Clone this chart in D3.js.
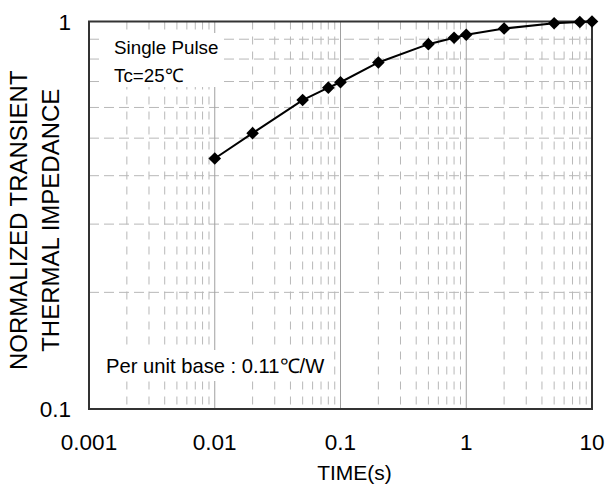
<!DOCTYPE html>
<html><head><meta charset="utf-8">
<script src="https://cdn.jsdelivr.net/npm/d3@7"></script>
<style>html,body{margin:0;padding:0;background:#fff;}svg{display:block;font-family:"Liberation Sans",Arial,sans-serif;}</style>
</head><body><div id="chart"></div>
<script>
// ---- data ----
const timeS = [0.01, 0.02, 0.05, 0.08, 0.1, 0.2, 0.5, 0.8, 1, 2, 5, 8, 10];
const zthNorm = [0.443, 0.515, 0.627, 0.675, 0.697, 0.784, 0.874, 0.908, 0.924, 0.959, 0.990, 0.997, 1.0];
const xTickValues = [0.001, 0.01, 0.1, 1, 10];
const xTickLabels = ["0.001", "0.01", "0.1", "1", "10"];
const yTickValues = [0.1, 1];
const yTickLabels = ["0.1", "1"];
const xTitle = "TIME(s)";
const yTitleLines = ["NORMALIZED TRANSIENT", "THERMAL IMPEDANCE"];
const noteTop = ["Single Pulse", "Tc=25\u2103"];
const noteBottom = "Per unit base : 0.11\u2103/W";

const W = 608, H = 485;
const L = 89, R = 592, T = 21.5, B = 409;
const svg = d3.select("#chart").append("svg").attr("width", W).attr("height", H);

const x = d3.scaleLog().domain([0.001, 10]).range([L, R]);
const y = d3.scaleLog().domain([0.1, 1]).range([B, T]);

const isMajor = v => Math.abs(Math.log10(v) - Math.round(Math.log10(v))) < 1e-6;

// grid
const g = svg.append("g");
const xt = x.ticks();
const yt = y.ticks();
g.selectAll("line.xminor").data(xt.filter(v => !isMajor(v))).join("line")
  .attr("x1", d => x(d)).attr("x2", d => x(d)).attr("y1", T).attr("y2", B)
  .attr("stroke", "#b8b8b8").attr("stroke-width", 1).attr("stroke-dasharray", "8,7");
g.selectAll("line.yminor").data(yt.filter(v => !isMajor(v))).join("line")
  .attr("y1", d => y(d)).attr("y2", d => y(d)).attr("x1", L).attr("x2", R)
  .attr("stroke", "#b8b8b8").attr("stroke-width", 1).attr("stroke-dasharray", "10,5");
g.selectAll("line.xmajor").data(xTickValues.slice(1, -1)).join("line")
  .attr("x1", d => x(d)).attr("x2", d => x(d)).attr("y1", T).attr("y2", B)
  .attr("stroke", "#a0a0a0").attr("stroke-width", 1);

// note boxes
svg.append("rect").attr("x", 104).attr("y", 33).attr("width", 118).attr("height", 54).attr("fill", "#fff");
svg.append("rect").attr("x", 100).attr("y", 350).attr("width", 230).attr("height", 31).attr("fill", "#fff");
svg.selectAll("text.nt").data(noteTop).join("text")
  .attr("x", 114).attr("y", (d, i) => 54 + i * 27.5)
  .attr("font-size", 18.8).attr("fill", "#000").text(d => d);
svg.append("text").attr("x", 106).attr("y", 373).attr("font-size", 20.2).attr("fill", "#000").text(noteBottom);

// frame
svg.append("rect").attr("x", L).attr("y", T).attr("width", R - L).attr("height", B - T)
  .attr("fill", "none").attr("stroke", "#333").attr("stroke-width", 2);

// tick labels
svg.selectAll("text.xt").data(xTickValues).join("text")
  .attr("x", d => x(d)).attr("y", 450).attr("text-anchor", "middle")
  .attr("font-size", 22.5).text((d, i) => xTickLabels[i]);
svg.selectAll("text.yt").data(yTickValues).join("text")
  .attr("x", 71).attr("y", d => y(d) + 8).attr("text-anchor", "end")
  .attr("font-size", 22.5).text((d, i) => yTickLabels[i]);
svg.append("text").attr("x", (L + R) / 2 + 14).attr("y", 480).attr("text-anchor", "middle")
  .attr("font-size", 21).text(xTitle);
svg.selectAll("text.yl").data(yTitleLines).join("text")
  .attr("transform", (d, i) => `translate(${27 + i * 31.5},${(T + B) / 2 + 5}) rotate(-90)`)
  .attr("text-anchor", "middle").attr("font-size", 24).text(d => d);

// series
const pts = timeS.map((t, i) => [t, zthNorm[i]]);
svg.append("path").datum(pts)
  .attr("d", d3.line().x(d => x(d[0])).y(d => y(d[1])))
  .attr("fill", "none").attr("stroke", "#000").attr("stroke-width", 2);
svg.selectAll("path.mk").data(pts).join("path")
  .attr("transform", d => `translate(${x(d[0])},${y(d[1])})`)
  .attr("d", "M0,-6.3L6.3,0L0,6.3L-6.3,0Z").attr("fill", "#000");
</script></body></html>
